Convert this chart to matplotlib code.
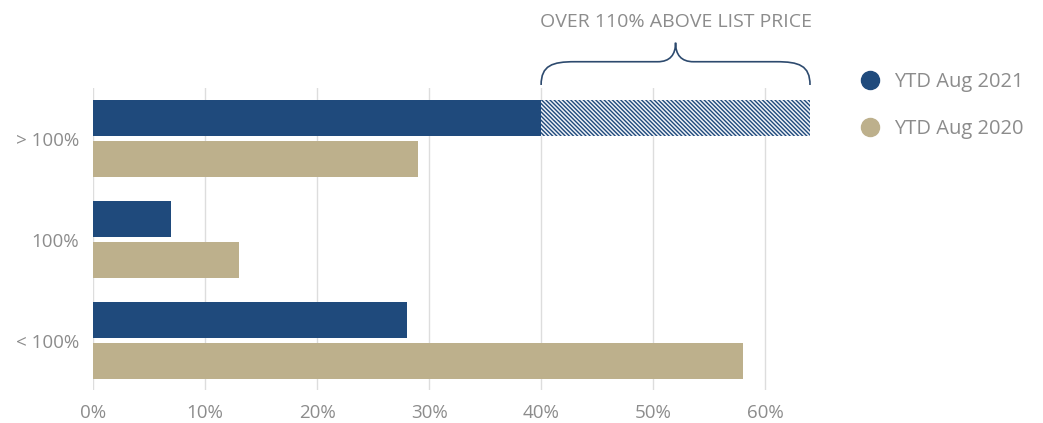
import numpy as np
import matplotlib.pyplot as plt
from matplotlib.lines import Line2D
from matplotlib.path import Path
from matplotlib.patches import PathPatch

# chart data (percent of sales by sale-to-list price ratio)
categories = ['> 100%', '100%', '< 100%']
ytd_2021 = [64, 7, 28]
ytd_2020 = [29, 13, 58]
over_110_2021 = 24  # part of the 2021 ">100%" bar that sold over 110% of list
series_labels = ['YTD Aug 2021', 'YTD Aug 2020']
x_ticks = [0, 10, 20, 30, 40, 50, 60]
x_tick_labels = ['0%', '10%', '20%', '30%', '40%', '50%', '60%']
brace_label = 'OVER 110% ABOVE LIST PRICE'

blue = '#1f4a7c'
tan = '#bdb08c'
grey_text = '#8c8c8c'
grid_col = '#dddddd'

plt.rcParams['font.family'] = ['Open Sans', 'DejaVu Sans']
plt.rcParams['hatch.linewidth'] = 1.0

fig = plt.figure(figsize=(10.43, 4.23), dpi=100)
ax = fig.add_axes([93 / 1043, 33 / 423, 717 / 1043, 302 / 423])

y = np.arange(len(categories))
bar_h = 0.355
off = 0.2

# the first 2021 bar is split into a solid part and a hatched "over 110%" part
solid_2021 = list(ytd_2021)
solid_2021[0] = ytd_2021[0] - over_110_2021

ax.barh(y - off, solid_2021, height=bar_h, color=blue, zorder=2)
ax.barh(y[0] - off, over_110_2021, left=solid_2021[0], height=bar_h,
        facecolor='#eef1f6', edgecolor=blue, hatch='\\' * 8, linewidth=0, zorder=2)
ax.barh(y + off, ytd_2020, height=bar_h, color=tan, zorder=2)

ax.set_xlim(0, 64)
ax.set_ylim(2.49, -0.5)
ax.set_xticks(x_ticks)
ax.set_xticklabels(x_tick_labels)
ax.set_yticks(y)
ax.set_yticklabels(categories)
ax.tick_params(axis='both', length=0, labelsize=13.5, labelcolor=grey_text)
ax.tick_params(axis='x', pad=10)
ax.tick_params(axis='y', pad=10)
for s in ax.spines.values():
    s.set_visible(False)
ax.grid(axis='x', color=grid_col, linewidth=1, zorder=0)
ax.set_axisbelow(True)

# curly brace over the hatched segment
x0 = solid_2021[0]
x1 = ytd_2021[0]
xm = (x0 + x1) / 2
yb, ys, yp = 1.01, 1.087, 1.15
verts = [
    (x0, yb),
    (x0, 1.075), (x0 + 1, ys), (x0 + 3, ys),
    (xm - 1.6, ys),
    (xm - 0.5, ys), (xm, 1.11), (xm, yp),
    (xm, 1.11), (xm + 0.5, ys), (xm + 1.6, ys),
    (x1 - 3, ys),
    (x1 - 1, ys), (x1, 1.075), (x1, yb),
]
codes = [Path.MOVETO,
         Path.CURVE4, Path.CURVE4, Path.CURVE4,
         Path.LINETO,
         Path.CURVE4, Path.CURVE4, Path.CURVE4,
         Path.CURVE4, Path.CURVE4, Path.CURVE4,
         Path.LINETO,
         Path.CURVE4, Path.CURVE4, Path.CURVE4]
brace = PathPatch(Path(verts, codes), transform=ax.get_xaxis_transform(),
                  facecolor='none', edgecolor='#2d4a6e', linewidth=1.2,
                  clip_on=False)
ax.add_patch(brace)
ax.text(xm, 1.22, brace_label, transform=ax.get_xaxis_transform(),
        ha='center', va='center', fontsize=14, color=grey_text)

handles = [Line2D([], [], marker='o', ls='', color=blue, markersize=13),
           Line2D([], [], marker='o', ls='', color=tan, markersize=13)]
fig.legend(handles, series_labels, loc='upper left',
           bbox_to_anchor=(848 / 1043, 1 - 62 / 423), frameon=False,
           fontsize=14.5, labelcolor=grey_text, labelspacing=1.35,
           handletextpad=0.6, handlelength=1.2, borderpad=0)

fig.savefig('out.png', dpi=100)
